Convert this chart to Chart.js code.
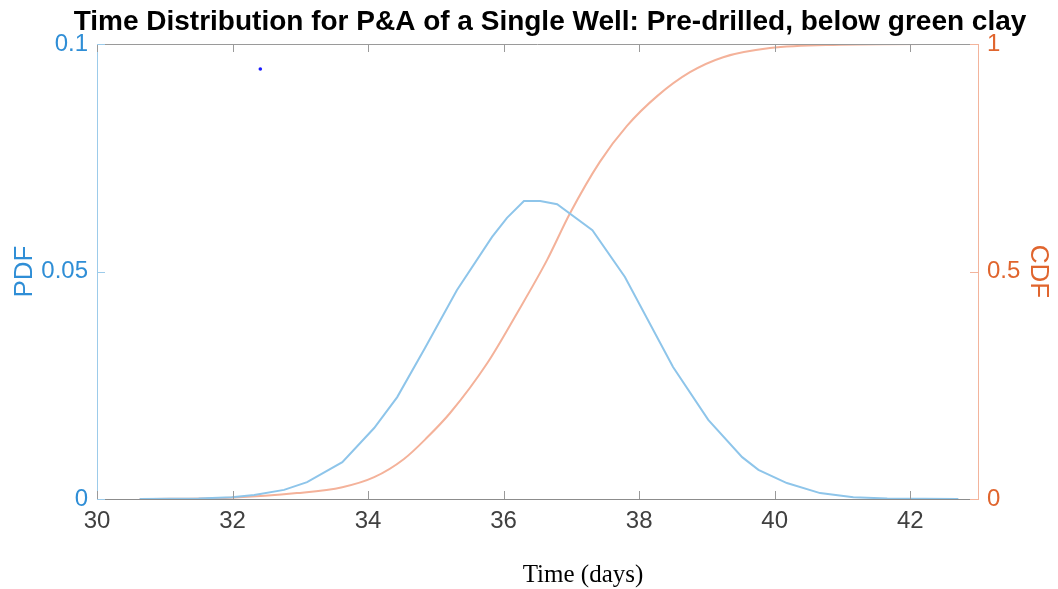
<!DOCTYPE html>
<html>
<head>
<meta charset="utf-8">
<script src="https://cdn.jsdelivr.net/npm/chart.js@4.4.1/dist/chart.umd.min.js"></script>
<style>
  html, body { margin: 0; padding: 0; background: #fff; }
  #wrap { width: 1058px; height: 589px; position: relative; }
</style>
</head>
<body>
<div id="wrap"><canvas id="chart"></canvas></div>
<script>
// values
const pdfX = [30.63, 31.5, 31.99, 32.32, 32.76, 33.10, 33.62, 34.09, 34.43, 34.84, 35.31, 35.83, 36.05, 36.30, 36.54, 36.79, 37.31, 37.79, 38.50, 39.02, 39.52, 39.76, 40.18, 40.67, 41.16, 41.66, 42.71];
const pdfY = [0, 0.0001, 0.0004, 0.0009, 0.002, 0.0037, 0.0081, 0.0156, 0.0224, 0.0332, 0.0459, 0.0576, 0.0618, 0.0655, 0.0655, 0.0648, 0.0591, 0.0488, 0.0290, 0.0174, 0.0092, 0.0064, 0.0035, 0.0013, 0.0004, 0.0001, 0];

const cdfX = [30.63, 31.96, 32.95, 33.62, 34.09, 34.53, 34.87, 35.21, 35.76, 36.20, 36.64, 36.98, 37.42, 37.82, 38.27, 38.75, 39.24, 39.93, 40.86, 42.71];
const cdfY = [0, 0.003, 0.013, 0.026, 0.048, 0.088, 0.135, 0.189, 0.299, 0.409, 0.525, 0.628, 0.741, 0.820, 0.886, 0.938, 0.971, 0.991, 0.998, 1.0];

const markerX = [32.41];
const markerY = [0.0945];

const xTicks = [30, 32, 34, 36, 38, 40, 42];
const pdfTicks = [0, 0.05, 0.1];
const cdfTicks = [0, 0.5, 1];

const titleText = 'Time Distribution for P&A of a Single Well: Pre-drilled, below green clay';
const xLabel = 'Time (days)';

const BLUE = '#2f8ed6';
const ORANGE = '#e0652e';
const toPoints = (xs, ys) => xs.map((x, i) => ({ x: x, y: ys[i] }));

// MATLAB-like box: inward ticks, grey top line, title and x label
const boxPlugin = {
  id: 'matlabBox',
  afterDraw(chart) {
    const { ctx, chartArea: a, scales } = chart;
    ctx.save();
    ctx.lineWidth = 1;
    ctx.strokeStyle = '#9a9a9a';
    ctx.beginPath();
    ctx.moveTo(a.left, a.top + 0.5);
    ctx.lineTo(a.right, a.top + 0.5);
    ctx.stroke();
    xTicks.forEach(v => {
      const px = Math.round(scales.x.getPixelForValue(v)) + 0.5;
      ctx.beginPath();
      ctx.moveTo(px, a.bottom); ctx.lineTo(px, a.bottom - 8);
      ctx.moveTo(px, a.top); ctx.lineTo(px, a.top + 8);
      ctx.stroke();
    });
    ctx.strokeStyle = '#9ccbea';
    pdfTicks.forEach(v => {
      const py = Math.round(scales.y.getPixelForValue(v)) + 0.5;
      ctx.beginPath(); ctx.moveTo(a.left, py); ctx.lineTo(a.left + 8, py); ctx.stroke();
    });
    ctx.strokeStyle = '#f3b49c';
    cdfTicks.forEach(v => {
      const py = Math.round(scales.y2.getPixelForValue(v)) + 0.5;
      ctx.beginPath(); ctx.moveTo(a.right, py); ctx.lineTo(a.right - 8, py); ctx.stroke();
    });

    ctx.fillStyle = '#000';
    ctx.textAlign = 'center';
    ctx.textBaseline = 'alphabetic';
    ctx.font = 'bold 28px "Liberation Sans", Arial, sans-serif';
    ctx.fillText(titleText, 550, 30);
    ctx.font = '25px "Liberation Serif", "Times New Roman", serif';
    ctx.fillText(xLabel, 583, 582);
    ctx.restore();
  }
};

new Chart(document.getElementById('chart'), {
  type: 'line',
  data: {
    datasets: [
      {
        label: 'PDF',
        data: toPoints(pdfX, pdfY),
        yAxisID: 'y',
        borderColor: '#8ec5ea',
        borderWidth: 2,
        pointRadius: 0,
        tension: 0
      },
      {
        label: 'CDF',
        data: toPoints(cdfX, cdfY),
        yAxisID: 'y2',
        borderColor: '#f4b29a',
        borderWidth: 2,
        pointRadius: 0,
        cubicInterpolationMode: 'monotone'
      },
      {
        label: 'marker',
        data: toPoints(markerX, markerY),
        yAxisID: 'y',
        showLine: false,
        pointRadius: 1.8,
        pointBorderWidth: 0,
        pointBackgroundColor: '#1a1aff'
      }
    ]
  },
  options: {
    responsive: true,
    maintainAspectRatio: false,
    animation: false,
    layout: { padding: { top: 44, left: 0, right: 0, bottom: 0 } },
    plugins: { legend: { display: false }, tooltip: { enabled: false }, title: { display: false } },
    scales: {
      x: {
        type: 'linear',
        position: 'bottom',
        min: 30,
        max: 43,
        afterBuildTicks: s => { s.ticks = xTicks.map(v => ({ value: v })); },
        afterFit: s => { s.height = 90; },
        grid: { drawOnChartArea: false, drawTicks: false },
        border: { color: '#8c8c8c', width: 1 },
        ticks: { color: '#404040', padding: 8, font: { size: 24, family: '"Liberation Sans", Arial, sans-serif' } }
      },
      y: {
        type: 'linear',
        position: 'left',
        min: 0,
        max: 0.1,
        afterBuildTicks: s => { s.ticks = pdfTicks.map(v => ({ value: v })); },
        afterFit: s => { s.width = 97; },
        grid: { drawOnChartArea: false, drawTicks: false },
        border: { color: '#9ccbea', width: 1 },
        ticks: { color: BLUE, padding: 9, callback: v => String(v), font: { size: 24, family: '"Liberation Sans", Arial, sans-serif' } },
        title: { display: true, text: 'PDF', color: BLUE, padding: { top: 9, bottom: 0 }, font: { size: 26, family: '"Liberation Sans", Arial, sans-serif' } }
      },
      y2: {
        type: 'linear',
        position: 'right',
        min: 0,
        max: 1,
        afterBuildTicks: s => { s.ticks = cdfTicks.map(v => ({ value: v })); },
        afterFit: s => { s.width = 80; },
        grid: { drawOnChartArea: false, drawTicks: false },
        border: { color: '#f3b49c', width: 1 },
        ticks: { color: ORANGE, padding: 9, callback: v => String(v), font: { size: 24, family: '"Liberation Sans", Arial, sans-serif' } },
        title: { display: true, text: 'CDF', color: ORANGE, padding: { top: 4, bottom: 0 }, font: { size: 26, family: '"Liberation Sans", Arial, sans-serif' } }
      }
    }
  },
  plugins: [boxPlugin]
});
</script>
</body>
</html>
